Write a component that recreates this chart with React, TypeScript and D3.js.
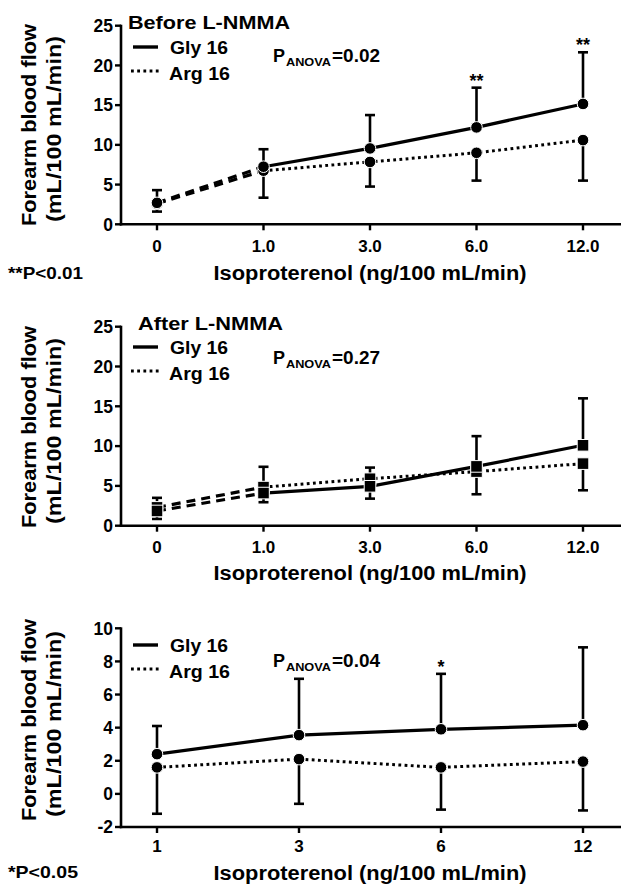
import React from 'react';
import * as d3 from 'd3';

// ---------- data ----------
const doses = ['0', '1.0', '3.0', '6.0', '12.0'];
const doses3 = ['1', '3', '6', '12'];

const beforeGly = [2.7, 7.25, 9.55, 12.2, 15.15];
const beforeGlyErr = [1.6, 2.2, 4.2, 5.0, 6.5];
const beforeArg = [2.6, 6.75, 7.85, 9.0, 10.6];
const beforeArgErr = [1.0, 3.4, 3.1, 3.5, 5.1];

const afterGly = [1.85, 4.1, 4.95, 7.45, 10.1];
const afterGlyErr = [1.65, 3.3, 2.35, 3.8, 5.9];
const afterArg = [2.3, 4.85, 5.9, 6.8, 7.8];
const afterArgErr = [1.45, 1.9, 2.5, 2.85, 3.35];

const diffGly = [2.4, 3.55, 3.9, 4.15];
const diffGlyErr = [1.7, 3.4, 3.35, 4.7];
const diffArg = [1.6, 2.1, 1.6, 1.95];
const diffArgErr = [2.8, 2.7, 2.55, 2.95];

const yTicks12 = [0, 5, 10, 15, 20, 25];
const yTicks3 = [-2, 0, 2, 4, 6, 8, 10];

const FONT = '"Liberation Sans", Arial, Helvetica, sans-serif';

type Star = { i: number; t: string };
type PanelCfg = {
  cats: string[];
  gly: number[];
  glyErr: number[];
  arg: number[];
  argErr: number[];
  domain: [number, number];
  ticks: number[];
  yPix: [number, number];
  marker: 'circle' | 'square';
  dashedFirst: boolean;
  title?: string;
  titleX?: number;
  titleY?: number;
  titleW?: number;
  legendY: number;
  pY: number;
  pText: string;
  stars: Star[];
  note?: string;
  noteY?: number;
  noteW?: number;
  tickLabelY: number;
  axisTitleY: number;
  ylabelC: number;
};

const panels: PanelCfg[] = [
  {
    cats: doses, gly: beforeGly, glyErr: beforeGlyErr, arg: beforeArg, argErr: beforeArgErr,
    domain: [0, 25], ticks: yTicks12, yPix: [224.3, 25.7], marker: 'circle', dashedFirst: true,
    title: 'Before L-NMMA', titleX: 128, titleY: 29, titleW: 162,
    legendY: 47, pY: 62, pText: '=0.02', stars: [{ i: 3, t: '**' }, { i: 4, t: '**' }],
    note: '**P<0.01', noteY: 279, noteW: 75, tickLabelY: 252, axisTitleY: 280, ylabelC: 125,
  },
  {
    cats: doses, gly: afterGly, glyErr: afterGlyErr, arg: afterArg, argErr: afterArgErr,
    domain: [0, 25], ticks: yTicks12, yPix: [525.7, 326.7], marker: 'square', dashedFirst: true,
    title: 'After L-NMMA', titleX: 138, titleY: 330, titleW: 145,
    legendY: 347, pY: 364, pText: '=0.27', stars: [],
    tickLabelY: 553, axisTitleY: 580, ylabelC: 427,
  },
  {
    cats: doses3, gly: diffGly, glyErr: diffGlyErr, arg: diffArg, argErr: diffArgErr,
    domain: [-2, 10], ticks: yTicks3, yPix: [827, 628.3], marker: 'circle', dashedFirst: false,
    legendY: 645, pY: 667, pText: '=0.04', stars: [{ i: 2, t: '*' }],
    note: '*P<0.05', noteY: 878, noteW: 70, tickLabelY: 852, axisTitleY: 880, ylabelC: 720,
  },
];

const AX_LEFT = 121;
const AX_RIGHT = 621;
const X0 = 157;
const X1 = 583;

function Panel({ c }: { c: PanelCfg }) {
  const x = d3.scalePoint<string>().domain(c.cats).range([X0, X1]);
  const y = d3.scaleLinear().domain(c.domain).range(c.yPix);
  const yBase = c.yPix[0];
  const yTopPix = c.yPix[1];

  const pts = (vals: number[]) => vals.map((v, i) => [x(c.cats[i]) as number, y(v)] as [number, number]);
  const line = d3.line<[number, number]>();
  const glyPts = pts(c.gly);
  const argPts = pts(c.arg);
  const start = c.dashedFirst ? 1 : 0;

  const marker = (p: [number, number], k: string) =>
    c.marker === 'circle' ? (
      <circle key={k} cx={p[0]} cy={p[1]} r={5.8} fill="#000" stroke="#fff" strokeWidth={1} />
    ) : (
      <rect key={k} x={p[0] - 5.8} y={p[1] - 5.8} width={11.6} height={11.6} fill="#000" stroke="#fff" strokeWidth={1} />
    );

  const capW = 5;
  const pLabelX = 273;

  return (
    <g>
      {/* axes */}
      <line x1={AX_LEFT} x2={AX_LEFT} y1={yTopPix - 1} y2={yBase + 1.2} stroke="#000" strokeWidth={2.6} />
      <line x1={AX_LEFT - 1.2} x2={AX_RIGHT} y1={yBase} y2={yBase} stroke="#000" strokeWidth={2.6} />
      {c.ticks.map((t) => (
        <g key={'yt' + t}>
          <line x1={AX_LEFT - 6} x2={AX_LEFT} y1={y(t)} y2={y(t)} stroke="#000" strokeWidth={2.4} />
          <text x={113} y={y(t) + 6.3} textAnchor="end" fontSize={17.5} fontWeight="bold" fontFamily={FONT}>
            {t}
          </text>
        </g>
      ))}
      {c.cats.map((k) => (
        <g key={'xt' + k}>
          <line x1={x(k)} x2={x(k)} y1={yBase} y2={yBase + 6} stroke="#000" strokeWidth={2.4} />
          <text x={x(k)} y={c.tickLabelY} textAnchor="middle" fontSize={17} fontWeight="bold" fontFamily={FONT}>
            {k}
          </text>
        </g>
      ))}

      {/* dashed first segments */}
      {c.dashedFirst && (
        <>
          <path d={line(glyPts.slice(0, 2)) || ''} fill="none" stroke="#000" strokeWidth={3.2} strokeDasharray="9,6" />
          <path d={line(argPts.slice(0, 2)) || ''} fill="none" stroke="#000" strokeWidth={3.2} strokeDasharray="9,6" />
        </>
      )}
      {/* main lines */}
      <path d={line(glyPts.slice(start)) || ''} fill="none" stroke="#000" strokeWidth={3.2} />
      <path d={line(argPts.slice(start)) || ''} fill="none" stroke="#000" strokeWidth={3} strokeDasharray="2.8,3.4" />

      {/* error bars */}
      {c.gly.map((v, i) => {
        const px = x(c.cats[i]) as number;
        const yt = y(v + c.glyErr[i]);
        return (
          <g key={'ge' + i}>
            <line x1={px} x2={px} y1={y(v)} y2={yt} stroke="#000" strokeWidth={2.6} />
            <line x1={px - capW} x2={px + capW} y1={yt} y2={yt} stroke="#000" strokeWidth={2.6} />
          </g>
        );
      })}
      {c.arg.map((v, i) => {
        const px = x(c.cats[i]) as number;
        const yb = y(v - c.argErr[i]);
        return (
          <g key={'ae' + i}>
            <line x1={px} x2={px} y1={y(v)} y2={yb} stroke="#000" strokeWidth={2.6} />
            <line x1={px - capW} x2={px + capW} y1={yb} y2={yb} stroke="#000" strokeWidth={2.6} />
          </g>
        );
      })}

      {/* markers */}
      {argPts.map((p, i) => marker(p, 'am' + i))}
      {glyPts.map((p, i) => marker(p, 'gm' + i))}

      {/* stars */}
      {c.stars.map((s) => {
        const px = x(c.cats[s.i]) as number;
        const yt = y(c.gly[s.i] + c.glyErr[s.i]);
        return (
          <text key={'st' + s.i} x={px} y={yt - 1} textAnchor="middle" fontSize={18} fontWeight="bold" fontFamily={FONT}>
            {s.t}
          </text>
        );
      })}

      {/* title */}
      {c.title && (
        <text x={c.titleX} y={c.titleY} fontSize={18.5} fontWeight="bold" fontFamily={FONT}
          textLength={c.titleW} lengthAdjust="spacingAndGlyphs">
          {c.title}
        </text>
      )}

      {/* legend */}
      <line x1={133} x2={158} y1={c.legendY} y2={c.legendY} stroke="#000" strokeWidth={3.4} />
      <line x1={131} x2={160} y1={c.legendY + 24} y2={c.legendY + 24} stroke="#000" strokeWidth={3} strokeDasharray="2.8,3.4" />
      <text x={170} y={c.legendY + 7} fontSize={18} fontWeight="bold" fontFamily={FONT} textLength={58} lengthAdjust="spacingAndGlyphs">
        Gly 16
      </text>
      <text x={169} y={c.legendY + 33} fontSize={18} fontWeight="bold" fontFamily={FONT} textLength={61} lengthAdjust="spacingAndGlyphs">
        Arg 16
      </text>

      {/* P anova */}
      <text x={pLabelX} y={c.pY} fontSize={18} fontWeight="bold" fontFamily={FONT} textLength={12} lengthAdjust="spacingAndGlyphs">P</text>
      <text x={pLabelX + 13} y={c.pY + 4} fontSize={11.5} fontWeight="bold" fontFamily={FONT} textLength={45} lengthAdjust="spacingAndGlyphs">ANOVA</text>
      <text x={pLabelX + 59} y={c.pY} fontSize={18} fontWeight="bold" fontFamily={FONT} textLength={48} lengthAdjust="spacingAndGlyphs">{c.pText}</text>

      {/* y label */}
      <text transform={`translate(35.5,${c.ylabelC}) rotate(-90)`} textAnchor="middle" fontSize={19.5} fontWeight="bold"
        fontFamily={FONT} textLength={202} lengthAdjust="spacingAndGlyphs">
        Forearm blood flow
      </text>
      <text transform={`translate(61,${c.ylabelC + 4}) rotate(-90)`} textAnchor="middle" fontSize={19.5} fontWeight="bold"
        fontFamily={FONT} textLength={186} lengthAdjust="spacingAndGlyphs">
        (mL/100 mL/min)
      </text>

      {/* x title */}
      <text x={370} y={c.axisTitleY} textAnchor="middle" fontSize={19.5} fontWeight="bold" fontFamily={FONT}
        textLength={313} lengthAdjust="spacingAndGlyphs">
        Isoproterenol (ng/100 mL/min)
      </text>

      {/* note */}
      {c.note && (
        <text x={8} y={c.noteY} fontSize={17} fontWeight="bold" fontFamily={FONT} textLength={c.noteW} lengthAdjust="spacingAndGlyphs">
          {c.note}
        </text>
      )}
    </g>
  );
}

export default function App() {
  return (
    <svg width={637} height={896} style={{ position: 'absolute', left: 0, top: 0, background: '#fff' }}>
      <rect width={637} height={896} fill="#fff" />
      {panels.map((c, i) => (
        <Panel key={i} c={c} />
      ))}
    </svg>
  );
}
